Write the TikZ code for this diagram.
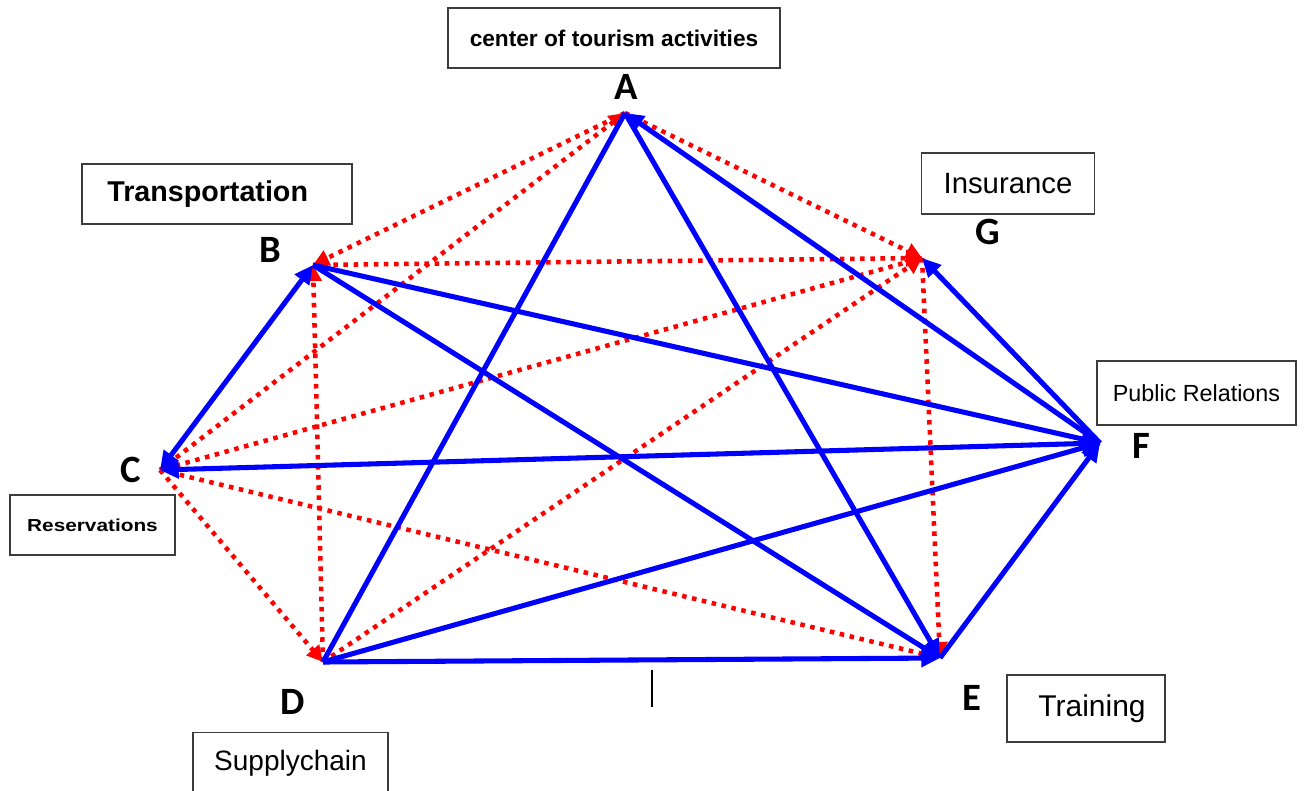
\documentclass[tikz,border=0pt]{standalone}
\usepackage{fontspec}
\setmainfont{Liberation Sans}
\newfontfamily\letterfont{Carlito}
\newfontfamily\widefont[FakeStretch=1.2]{Liberation Sans}
\usetikzlibrary{arrows.meta}
\begin{document}
\begin{tikzpicture}[x=0.75pt,y=-0.75pt,
  blueline/.style={draw={rgb,255:red,0;green,0;blue,255}, line width=3.8pt, line cap=butt},
  redline/.style={draw={rgb,255:red,255;green,0;blue,0}, line width=3.4pt, dash pattern=on 3.4pt off 4.2pt},
  bhead/.style={-{Triangle[length=14pt,width=13pt]}},
  bboth/.style={{Triangle[length=14pt,width=13pt]}-{Triangle[length=14pt,width=13pt]}},
  rhead/.style={-{Triangle[length=12pt,width=12pt]}},
  box/.style={draw={rgb,255:red,60;green,60;blue,60}, line width=1.1pt, fill=white, inner sep=0pt},
  vlabel/.style={font=\letterfont\bfseries\fontsize{29}{31}\selectfont, inner sep=0pt}
]
\useasboundingbox (0,0) rectangle (1304,790);
\fill[white] (0,0) rectangle (1304,790);

% vertices
\coordinate (A) at (625,113);
\coordinate (B) at (313,265);
\coordinate (C) at (160,470);
\coordinate (D) at (323,662);
\coordinate (E) at (940,658);
\coordinate (F) at (1100,443);
\coordinate (G) at (922,258);

% red dotted connectors
\draw[redline, rhead] (A) -- (B);
\draw[redline, rhead] (C) -- (A);
\draw[redline, rhead] (A) -- (G);
\draw[redline, rhead] (B) -- (G);
\draw[redline, rhead] (D) -- (B);
\draw[redline, rhead] (G) -- (C);
\draw[redline, rhead] (D) -- (G);
\draw[redline, rhead] (C) -- (D);
\draw[redline, rhead] (C) -- (E);
\draw[redline, rhead] (G) -- (E);

% blue connectors
\draw[blueline] (D) -- (A);
\draw[blueline, bhead] (A) -- (E);
\draw[blueline, bhead] (F) -- (A);
\draw[blueline, bboth] (B) -- (C);
\draw[blueline, bhead] (B) -- (F);
\draw[blueline, bhead] (B) -- (E);
\draw[blueline, bhead] (F) -- (C);
\draw[blueline, bhead] (D) -- (F);
\draw[blueline, bhead] (D) -- (E);
\draw[blueline, bhead] (E) -- (F);
\draw[blueline, bhead] (F) -- (G);

% small tick
\coordinate (t1) at (652,670);
\coordinate (t2) at (652,707);
\draw[line width=1.8pt] (t1) -- (t2);

% vertex letters
\node[vlabel] (lA) at (626,87) {A};
\node[vlabel] (lB) at (270,250) {B};
\node[vlabel] (lG) at (988,232) {G};
\node[vlabel] (lF) at (1141,446) {F};
\node[vlabel] (lC) at (131,470) {C};
\node[vlabel] (lD) at (293,702) {D};
\node[vlabel] (lE) at (972,698) {E};

% boxes
\node[box, minimum width=249pt, minimum height=45pt, font=\bfseries\fontsize{17}{19}\selectfont] (bA) at (614,38) {center of tourism activities};
\node[box, minimum width=202.5pt, minimum height=45pt, font=\bfseries\fontsize{21.5}{23}\selectfont] (bB) at (217,194) {Transportation\kern14pt\null};
\node[box, minimum width=130pt, minimum height=46pt, font=\fontsize{22}{24}\selectfont] (bG) at (1008,183.5) {Insurance};
\node[box, minimum width=149pt, minimum height=48pt, font=\fontsize{17.5}{19}\selectfont] (bF) at (1196.5,393) {Public Relations};
\node[box, minimum width=124pt, minimum height=45pt, font=\widefont\bfseries\fontsize{13}{15}\selectfont] (bC) at (92.5,525) {Reservations};
\node[box, minimum width=146pt, minimum height=50pt] (bD) at (290.5,766) {};
\node[font=\fontsize{21}{23}\selectfont, inner sep=0pt] (tD) at (290.5,763) {Supplychain};
\node[box, minimum width=118.5pt, minimum height=50pt, font=\fontsize{22.5}{24}\selectfont] (bE) at (1086,708.5) {\hspace{9pt}Training};
\end{tikzpicture}
\end{document}
